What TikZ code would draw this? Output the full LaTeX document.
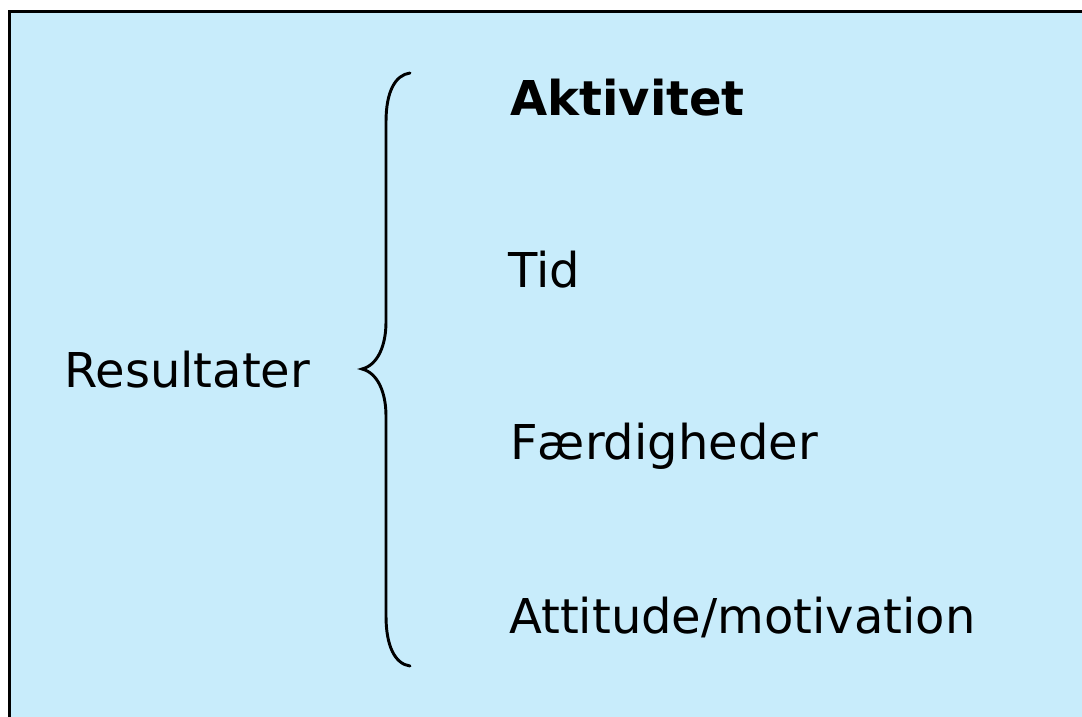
\documentclass[tikz,border=0pt]{standalone}
\usepackage{fontspec}
\setmainfont{DejaVu Sans}
\definecolor{panelblue}{HTML}{C8ECFB}
\begin{document}
\begin{tikzpicture}[x=0.75pt,y=-0.75pt,
  label/.style={anchor=base west,inner sep=0pt,font=\fontsize{36}{43}\selectfont},
  brace/.style={line width=2.2pt,line cap=round}]
\useasboundingbox (0,0) rectangle (1082,717);
\clip (0,0) rectangle (1082,717);
% panel
\draw[fill=panelblue,line width=2.4pt] (9.5,11.5) rectangle (1100,740);
% labels
\node[label] (res) at (64,387) {Resultater};
\node[label,font=\fontsize{36}{43}\selectfont\bfseries] (akt) at (510,115) {Aktivitet};
\node[label] (tid) at (508,287) {Tid};
\node[label] (fae) at (510,459) {Færdigheder};
\node[label] (att) at (509,633) {Attitude/motivation};
% curly brace
\coordinate (btop) at (410,73);
\coordinate (btip) at (362,369);
\coordinate (bbot) at (410,666);
\draw[brace] (btop) .. controls (395,75) and (386,92) .. (386,122)
  -- (386,322) .. controls (386,345) and (378,365) .. (btip)
  .. controls (378,373) and (386,393) .. (386,416)
  -- (386,616) .. controls (386,646) and (395,664) .. (bbot);
\end{tikzpicture}
\end{document}
